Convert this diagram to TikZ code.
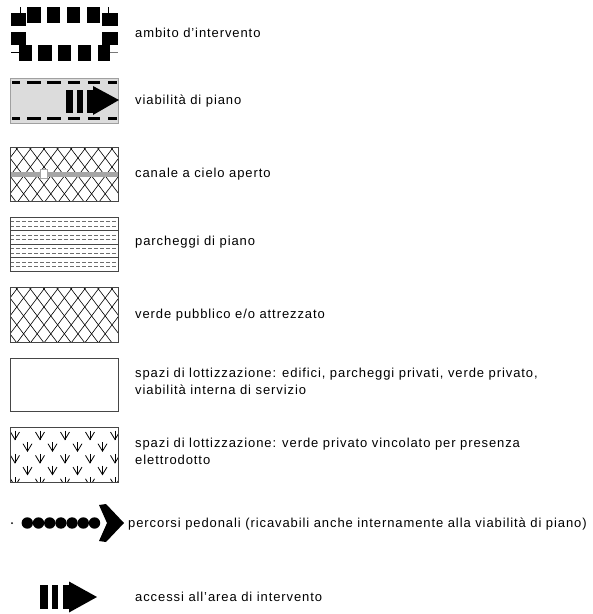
\documentclass[tikz,border=0pt]{standalone}
\usepackage{fontspec}
\setmainfont{Liberation Sans}[LetterSpace=7]
\definecolor{framegray}{RGB}{70,70,70}
\definecolor{roadgray}{RGB}{220,220,220}
\definecolor{roadframe}{RGB}{160,160,160}
\definecolor{canalgray}{RGB}{166,166,166}
\definecolor{dashgray}{RGB}{110,110,110}
\definecolor{markgray}{RGB}{120,120,120}
\usepackage{tikz}

\tikzset{
  legendtext/.style={anchor=base west, inner sep=0pt, align=left,
    font=\fontsize{13}{17}\selectfont},
  legendbox/.style={draw=framegray, line width=0.8pt},
  hatchline/.style={line width=0.6pt}
}

\begin{document}
\begin{tikzpicture}[x=1pt, y=-1pt]
  \useasboundingbox (0,0) rectangle (593,614);

  % ambito d'intervento
  \foreach \xa/\xb in {27/41, 47/60, 67/80, 87/100}
    \fill (\xa,7) rectangle (\xb,23);
  \foreach \xa/\xb in {19/32, 38/52, 58/71, 78/91, 98/110}
    \fill (\xa,45) rectangle (\xb,61);
  \fill (11,13) rectangle (26,26);
  \fill (102,13) rectangle (118,26);
  \fill (11,32) rectangle (26,45);
  \fill (102,32) rectangle (118,45);
  \draw[line width=1pt] (20,7) -- (20,13);
  \draw[line width=1pt] (108,7) -- (108,13);
  \draw[line width=1pt] (11,52) -- (19,52);
  \draw[line width=1pt, markgray] (110,52) -- (118,52);
  \node[legendtext] (ambito) at (135,37) {ambito d'intervento};

  % viabilita di piano
  \filldraw[fill=roadgray, draw=roadframe, line width=0.8pt] (10,78) rectangle (118,123);
  \foreach \xa/\xb in {12/20, 27/41, 47/61, 68/80, 88/100, 108/117} {
    \fill (\xa,81) rectangle (\xb,84);
    \fill (\xa,117) rectangle (\xb,120);
  }
  \foreach \xa/\xb in {66/73, 77/83, 87/93}
    \fill (\xa,90) rectangle (\xb,113);
  \fill (93,86) -- (119,100) -- (93,115) -- cycle;
  \node[legendtext] (viabilita) at (135,104) {viabilità di piano};

  % canale a cielo aperto
  \begin{scope}
    \clip (10,147) rectangle (118,201);
    \foreach \k in {-6,...,10} {
      \draw[hatchline] (10+\k*13.6,140) -- ++(50,66);
      \draw[hatchline] (10+\k*13.6,140) -- ++(-50,66);
    }
  \end{scope}
  \fill[canalgray] (10,172) rectangle (118,177);
  \filldraw[fill=white, draw=canalgray, line width=0.8pt] (40,169) rectangle (47,178);
  \draw[legendbox] (10,147) rectangle (118,201);
  \node[legendtext] (canale) at (135,177) {canale a cielo aperto};

  % parcheggi di piano
  \foreach \i in {1,...,11} {
    \pgfmathtruncatemacro\r{mod(\i,3)}
    \ifnum\r=0
      \draw[line width=0.8pt, framegray] (10,217+\i*4.5) -- (118,217+\i*4.5);
    \else
      \draw[line width=0.8pt, dashgray, dash pattern=on 4pt off 2pt] (10,217+\i*4.5) -- (118,217+\i*4.5);
    \fi
  }
  \draw[legendbox] (10,217) rectangle (118,271);
  \node[legendtext] (parcheggi) at (135,245) {parcheggi di piano};

  % verde pubblico
  \begin{scope}
    \clip (10,287) rectangle (118,342);
    \foreach \k in {-6,...,10} {
      \draw[hatchline] (10+\k*13.6,280) -- ++(50,66);
      \draw[hatchline] (10+\k*13.6,280) -- ++(-50,66);
    }
  \end{scope}
  \draw[legendbox] (10,287) rectangle (118,342);
  \node[legendtext] (verde) at (135,318) {verde pubblico e/o attrezzato};

  % spazi di lottizzazione
  \draw[legendbox] (10,358) rectangle (118,411);
  \node[legendtext] (lotti) at (135,394)
    {spazi di lottizzazione: edifici, parcheggi privati, verde privato,\\viabilità interna di servizio};

  % verde privato vincolato
  \begin{scope}
    \clip (10,427) rectangle (118,482);
    \foreach \j in {0,...,4} {
      \pgfmathtruncatemacro\r{mod(\j,2)}
      \pgfmathsetmacro\xo{\r==0 ? 15 : 2.5}
      \foreach \i in {0,...,4} {
        \draw[line width=0.8pt] (\xo+\i*25,430.5+\j*11.7) -- ++(0,9);
        \draw[line width=0.8pt] (\xo+\i*25-4.5,432+\j*11.7) -- ++(4.5,7.5) -- ++(4.5,-7.5);
      }
    }
  \end{scope}
  \draw[legendbox] (10,427) rectangle (118,482);
  \node[legendtext] (vincolo) at (135,464)
    {spazi di lottizzazione: verde privato vincolato per presenza\\elettrodotto};

  % percorsi pedonali
  \fill (12,523) circle (1pt);
  \foreach \i in {0,...,6}
    \fill (27.3+\i*11.2,523) circle (5.7pt);
  \fill (99,505) -- (106,504) -- (124,523) -- (106,542) -- (99,541) -- (107,523) -- cycle;
  \node[legendtext] (pedonali) at (128,527)
    {percorsi pedonali (ricavabili anche internamente alla viabilità di piano)};

  % accessi
  \foreach \xa/\xb in {40/47.5, 51.8/58.2, 62.5/69}
    \fill (\xa,584.7) rectangle (\xb,609.3);
  \fill (69,581.5) -- (97,597) -- (69,612.5) -- cycle;
  \node[legendtext] (accessi) at (135,601) {accessi all'area di intervento};
\end{tikzpicture}
\end{document}
